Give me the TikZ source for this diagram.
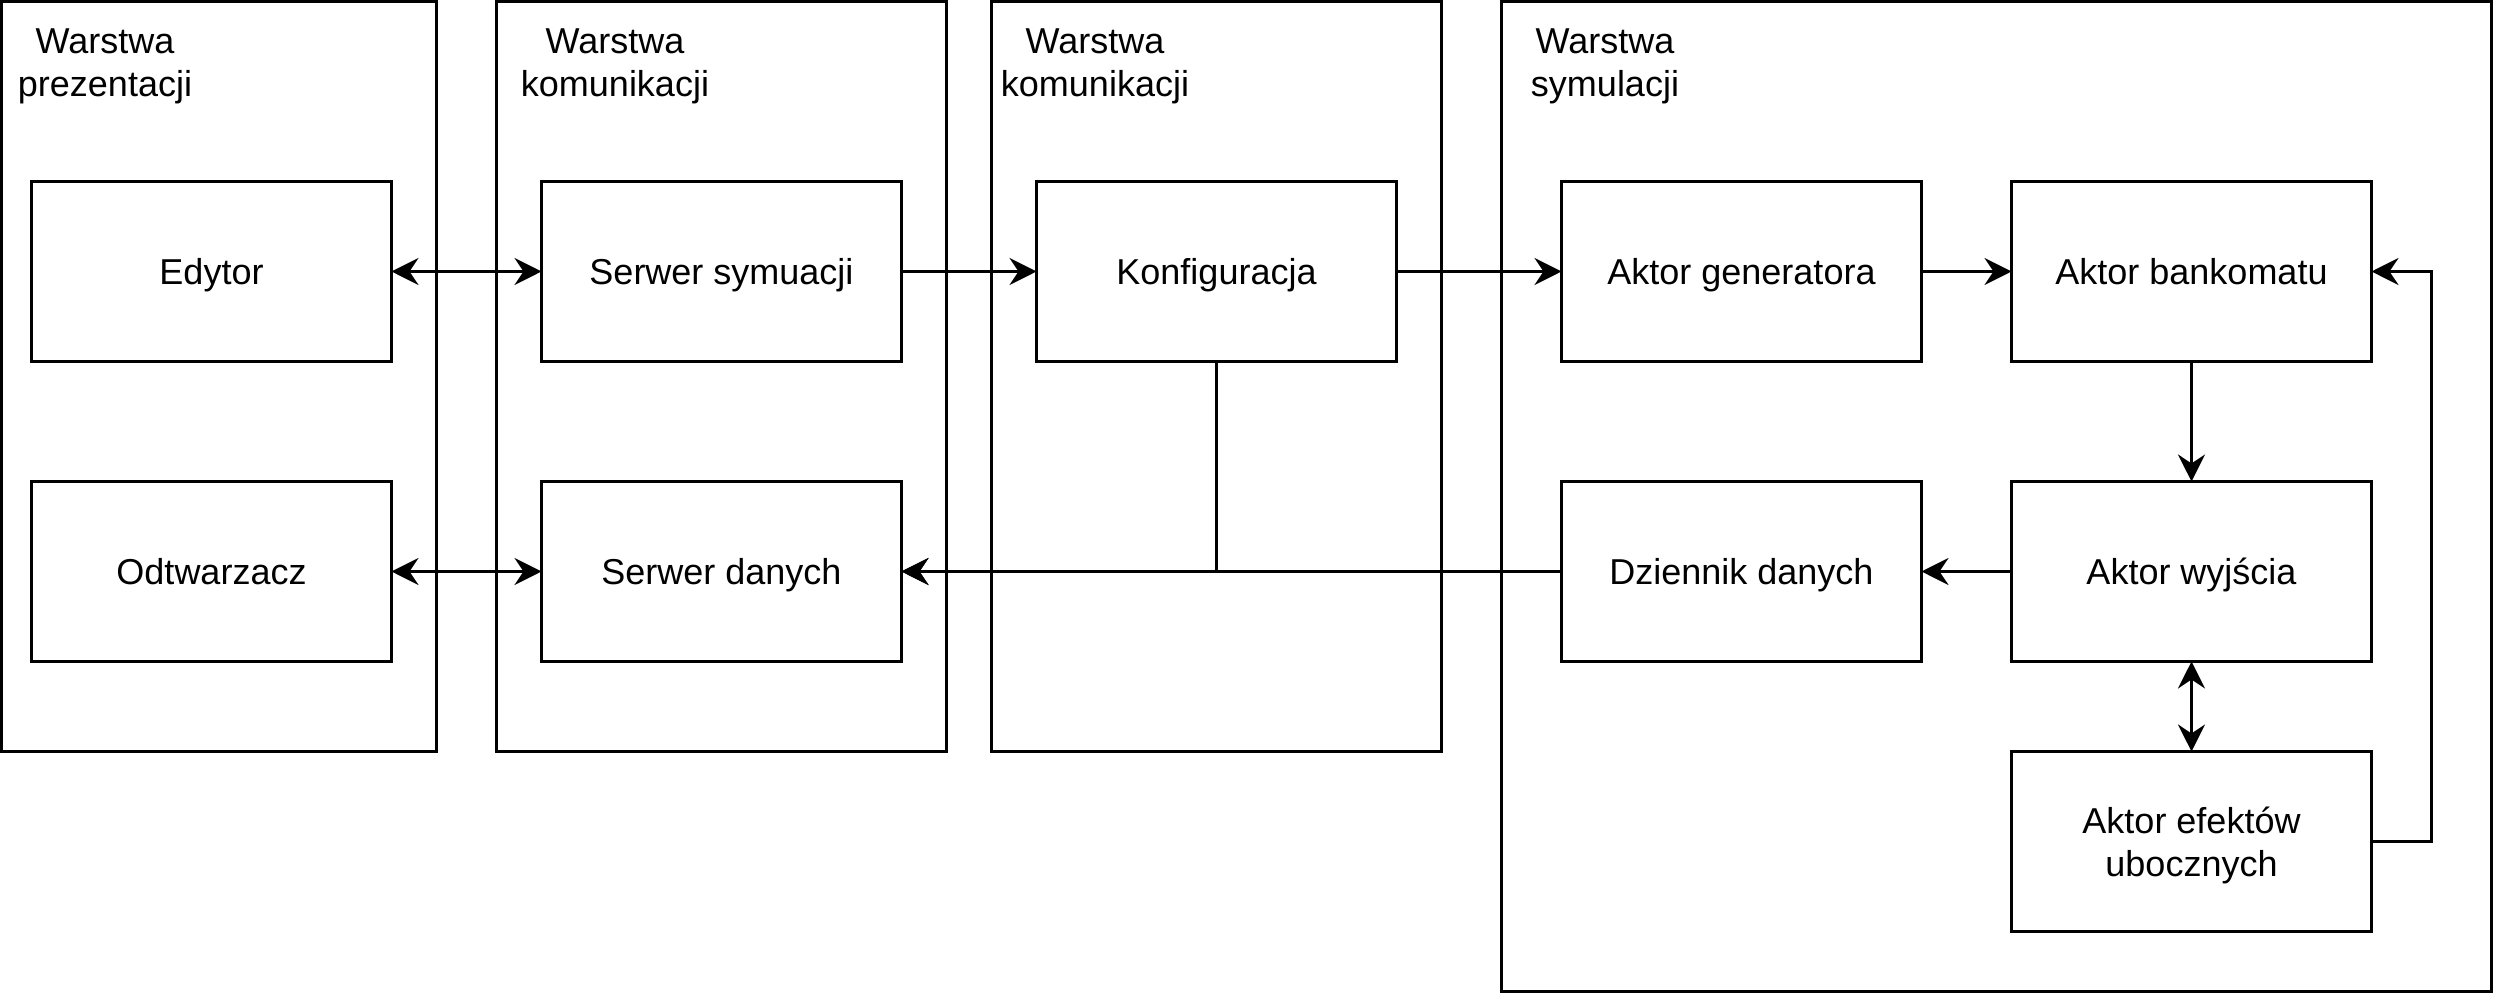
\documentclass[tikz,border=0pt]{standalone}
\usepackage{fontspec}
\setmainfont{Liberation Sans}
\usetikzlibrary{arrows.meta}
\begin{document}
\begin{tikzpicture}[x=1pt,y=-1pt,
  layer/.style={draw,line width=1pt,inner sep=0pt,outer sep=0pt,anchor=north west},
  block/.style={draw,line width=1pt,inner sep=0pt,outer sep=0pt,minimum width=120pt,minimum height=60pt,align=center,text depth=0pt,font=\fontsize{12pt}{14.4pt}\selectfont},
  oneline/.style={text height=8.7pt},
  ttl/.style={align=center,inner sep=0pt,text depth=0pt,font=\fontsize{12pt}{14.4pt}\selectfont},
  tip/.tip={Stealth[length=9pt,width=9pt,inset=3pt]},
  conn/.style={line width=1pt,arrows={-tip}},
  bconn/.style={line width=1pt,arrows={tip-tip}},
  plain/.style={line width=1pt}]
\useasboundingbox (-0.5,-0.5) rectangle (830.5,330.5);
% layers
\node[layer,minimum width=145pt,minimum height=250pt] (L1) at (0,0) {};
\node[layer,minimum width=150pt,minimum height=250pt] (L2) at (165,0) {};
\node[layer,minimum width=150pt,minimum height=250pt] (L3) at (330,0) {};
\node[layer,minimum width=330pt,minimum height=330pt] (L4) at (500,0) {};
\node[ttl] (T1) at (34.5,20.5) {Warstwa\\prezentacji};
\node[ttl] (T2) at (204.5,20.5) {Warstwa\\komunikacji};
\node[ttl] (T3) at (364.5,20.5) {Warstwa\\komunikacji};
\node[ttl] (T4) at (534.5,20.5) {Warstwa\\symulacji};
% blocks
\node[block,oneline] (ed) at (70,90) {Edytor};
\node[block,oneline] (od) at (70,190) {Odtwarzacz};
\node[block,oneline] (ss) at (240,90) {Serwer symuacji};
\node[block,oneline] (sd) at (240,190) {Serwer danych};
\node[block,oneline] (kf) at (405,90) {Konfiguracja};
\node[block,oneline] (ag) at (580,90) {Aktor generatora};
\node[block,oneline] (ab) at (730,90) {Aktor bankomatu};
\node[block,oneline] (dz) at (580,190) {Dziennik danych};
\node[block,oneline] (aw) at (730,190) {Aktor wyjścia};
\node[block] (ae) at (730,280) {Aktor efektów\\ubocznych};
\coordinate (loop) at (810,280);
% connectors
\draw[bconn] (ed) -- (ss);
\draw[bconn] (od) -- (sd);
\draw[conn] (ss) -- (kf);
\draw[conn] (kf) -- (ag);
\draw[conn] (ag) -- (ab);
\draw[conn] (ab) -- (aw);
\draw[conn] (aw) -- (dz);
\draw[bconn] (aw) -- (ae);
\draw[conn] (ae.east) -- (loop) |- (ab.east);
\draw[conn] (dz.west) -- (sd.east);
\draw[conn] (kf.south) |- (sd.east);
\end{tikzpicture}
\end{document}
